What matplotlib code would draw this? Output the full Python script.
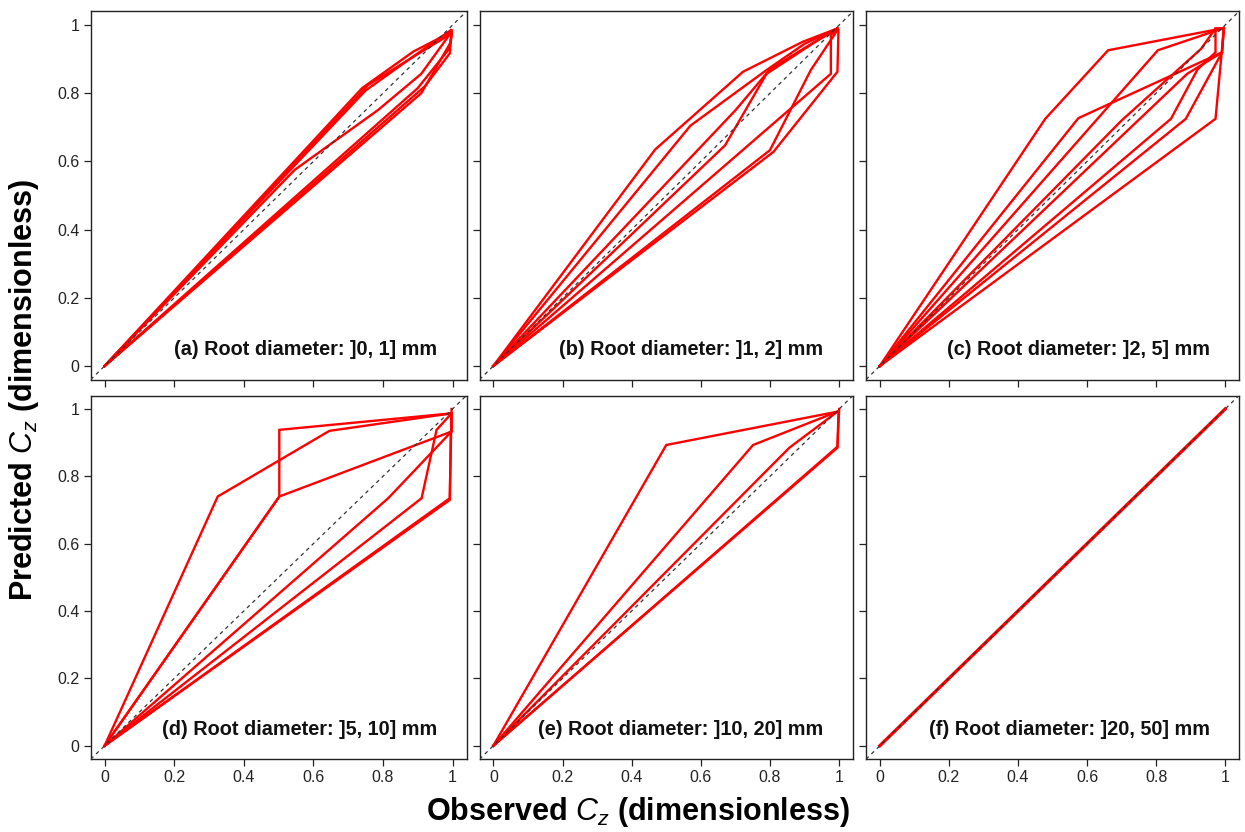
import matplotlib
matplotlib.use("Agg")
import matplotlib.pyplot as plt

plt.rcParams['font.family'] = ['Liberation Sans', 'DejaVu Sans']
plt.rcParams['mathtext.fontset'] = 'custom'
plt.rcParams['mathtext.it'] = 'Liberation Sans:italic'
plt.rcParams['mathtext.rm'] = 'Liberation Sans'

# ---------------- data (observed vs predicted cumulative fraction) ----------------
panel_labels = ["(a) Root diameter: ]0, 1] mm", "(b) Root diameter: ]1, 2] mm",
                "(c) Root diameter: ]2, 5] mm", "(d) Root diameter: ]5, 10] mm",
                "(e) Root diameter: ]10, 20] mm", "(f) Root diameter: ]20, 50] mm"]

obs_a = [[0, 0.74, 0.887, 0.997], [0, 0.757, 0.90, 0.997], [0, 0.75, 0.89, 0.995],
         [0, 0.546, 0.786, 0.91, 0.997], [0, 0.90, 0.99, 0.997], [0, 0.92, 0.992, 0.997],
         [0, 0.91, 0.995, 0.997]]
pred_a = [[0, 0.815, 0.922, 0.98], [0, 0.824, 0.915, 0.975], [0, 0.808, 0.91, 0.985],
          [0, 0.575, 0.751, 0.857, 0.98], [0, 0.815, 0.93, 0.97], [0, 0.82, 0.917, 0.98],
          [0, 0.80, 0.95, 0.985]]

obs_b = [[0, 0.468, 0.722, 0.895, 0.995], [0, 0.57, 0.79, 0.90, 0.995],
         [0, 0.70, 0.80, 0.92, 0.995], [0, 0.67, 0.79, 0.93, 0.995],
         [0, 0.80, 0.918, 0.995], [0, 0.81, 0.995, 0.998], [0, 0.976, 0.976, 0.995]]
pred_b = [[0, 0.635, 0.863, 0.951, 0.99], [0, 0.705, 0.868, 0.945, 0.99],
          [0, 0.75, 0.87, 0.945, 0.99], [0, 0.647, 0.857, 0.95, 0.99],
          [0, 0.633, 0.868, 0.985], [0, 0.628, 0.863, 0.985], [0, 0.857, 0.97, 0.99]]

obs_c = [[0, 0.479, 0.661, 0.996], [0, 0.805, 0.996], [0, 0.575, 0.991, 0.996],
         [0, 0.70, 0.93, 0.972, 0.996], [0, 0.843, 0.92, 0.972, 0.972],
         [0, 0.886, 0.991, 0.996], [0, 0.972, 0.99, 0.996], [0, 0.89, 0.991]]
pred_c = [[0, 0.725, 0.926, 0.991], [0, 0.926, 0.991], [0, 0.727, 0.92, 0.991],
          [0, 0.72, 0.93, 0.99, 0.991], [0, 0.725, 0.87, 0.92, 0.99],
          [0, 0.725, 0.92, 0.991], [0, 0.725, 0.92, 0.991], [0, 0.857, 0.92]]

obs_d = [[0, 0.325, 0.646, 0.997], [0, 0.502, 0.502, 0.997], [0, 0.502, 0.997, 0.997],
         [0, 0.815, 0.997, 0.997], [0, 0.911, 0.954, 0.997], [0, 0.992, 0.997],
         [0, 0.992, 0.995]]
pred_d = [[0, 0.74, 0.935, 0.987], [0, 0.74, 0.938, 0.987], [0, 0.74, 0.933, 0.987],
          [0, 0.735, 0.933, 0.987], [0, 0.735, 0.938, 0.987], [0, 0.735, 1.0],
          [0, 0.73, 0.93]]

obs_e = [[0, 0.50, 0.995], [0, 0.751, 0.995], [0, 0.856, 0.995], [0, 0.995, 1.0],
         [0, 0.995, 0.998]]
pred_e = [[0, 0.893, 0.992], [0, 0.893, 0.992], [0, 0.885, 0.992], [0, 0.888, 1.0],
          [0, 0.885, 0.99]]

obs_f = [[0, 1.0]]
pred_f = [[0, 1.0]]

ticks = [0, 0.2, 0.4, 0.6, 0.8, 1.0]
tick_labels = ["0", "0.2", "0.4", "0.6", "0.8", "1"]

# ---------------- figure ----------------
W, H = 1245, 832
fig = plt.figure(figsize=(W / 100, H / 100), dpi=100)

col_px = [(90.7, 466.5), (479.5, 853.0), (866.0, 1239.0)]
row_px = [(11.4, 379.6), (395.5, 759.2)]

all_obs = [obs_a, obs_b, obs_c, obs_d, obs_e, obs_f]
all_pred = [pred_a, pred_b, pred_c, pred_d, pred_e, pred_f]

for i in range(6):
    r, c = divmod(i, 3)
    l, rr = col_px[c]
    t, b = row_px[r]
    ax = fig.add_axes([l / W, 1 - b / H, (rr - l) / W, (b - t) / H])
    for xo, yp in zip(all_obs[i], all_pred[i]):
        ax.plot(xo, yp, color='#ff0000', lw=1.7 if i < 5 else 2.4, zorder=2,
                solid_joinstyle='miter')
    ax.axline((0, 0), slope=1, color='#333333', lw=0.9, dashes=(3, 3), zorder=3)
    ax.set_xlim(-0.04, 1.04)
    ax.set_ylim(-0.04, 1.04)
    ax.set_xticks(ticks)
    ax.set_yticks(ticks)
    ax.tick_params(direction='out', length=5, width=0.9, color='#222222',
                   labelsize=11.5, labelcolor='#222222', pad=3)
    ax.set_xticklabels(tick_labels if r == 1 else [])
    ax.set_yticklabels(tick_labels if c == 0 else [])
    for s in ax.spines.values():
        s.set_linewidth(1.0)
        s.set_color('#222222')
    ax.text(0.955, 0.02, panel_labels[i], ha='right', va='bottom',
            fontsize=14.3, fontweight='bold', color='#111111')

fig.text(638 / W, 1 - 812 / H, r"Observed $C_z$ (dimensionless)", ha='center',
         va='center', fontsize=22, fontweight='bold')
fig.text(24 / W, 1 - 390 / H, r"Predicted $C_z$ (dimensionless)", ha='center',
         va='center', rotation=90, fontsize=22, fontweight='bold')

fig.savefig("out.png", dpi=100)
